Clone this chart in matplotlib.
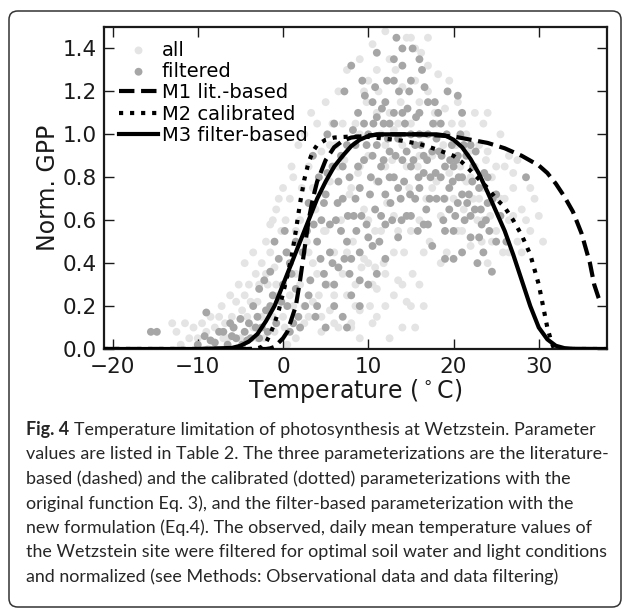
import matplotlib

matplotlib.use("Agg")
import matplotlib.pyplot as plt
import numpy as np
from matplotlib.patches import FancyBboxPatch

all_points = [
    (-13.0, 0.12), (-12.0, 0.02), (-11.0, 0.05), (-10.5, 0.10), (-9.5, 0.12), (-8.8, 0.00),
    (-8.0, 0.10), (-7.5, 0.15), (-7.0, 0.05), (-6.8, 0.12), (-6.0, 0.15), (-5.5, 0.22),
    (-5.0, 0.05), (-4.5, 0.25), (-4.2, 0.15), (-4.0, 0.30), (-3.5, 0.10), (-3.2, 0.35),
    (-3.0, 0.22), (-2.5, 0.40), (-2.2, 0.05), (-2.0, 0.50), (-1.8, 0.30), (-1.5, 0.58),
    (-1.2, 0.15), (-1.0, 0.38), (-0.8, 0.65), (-0.5, 0.25), (-0.2, 0.55), (0.0, 0.75),
    (0.2, 0.10), (0.5, 0.45), (0.8, 0.70), (1.0, 0.85), (1.2, 0.20), (1.5, 0.55),
    (1.8, 0.95), (2.0, 0.30), (2.2, 0.75), (2.5, 1.00), (2.8, 0.50), (3.0, 0.15),
    (3.0, 0.85), (3.3, 1.10), (3.5, 0.40), (3.8, 0.65), (4.0, 1.05), (4.2, 0.25),
    (4.5, 0.92), (4.8, 0.55), (5.0, 1.15), (5.2, 0.30), (5.5, 0.78), (5.8, 1.05),
    (6.0, 0.45), (6.2, 0.95), (6.5, 1.20), (6.8, 0.60), (7.0, 0.35), (7.2, 0.88),
    (7.5, 1.30), (7.8, 0.72), (8.0, 0.12), (8.2, 0.50), (8.5, 1.05), (8.8, 0.82),
    (9.0, 1.35), (9.2, 0.38), (9.5, 0.65), (9.8, 1.15), (10.0, 0.90), (10.2, 0.20),
    (10.5, 1.42), (10.8, 0.55), (11.0, 0.78), (11.2, 1.20), (11.5, 1.00), (11.8, 0.40),
    (12.0, 1.48), (12.2, 0.68), (12.5, 1.10), (12.8, 0.88), (13.0, 0.25), (13.2, 1.30),
    (13.5, 0.55), (13.8, 1.15), (14.0, 0.95), (14.2, 0.45), (14.5, 1.45), (14.8, 0.75),
    (15.0, 1.05), (15.2, 0.35), (15.5, 1.25), (15.8, 0.85), (16.0, 0.60), (16.2, 1.38),
    (16.5, 1.00), (16.8, 0.70), (17.0, 1.20), (17.2, 0.50), (17.5, 0.90), (17.8, 1.10),
    (18.0, 0.78), (18.2, 1.28), (18.5, 0.62), (18.8, 0.95), (19.0, 1.12), (19.2, 0.45),
    (19.5, 0.82), (19.8, 1.05), (20.0, 0.70), (20.3, 0.95), (20.5, 0.55), (20.8, 0.85),
    (21.0, 1.05), (21.2, 0.65), (21.5, 0.78), (21.8, 0.92), (22.0, 0.48), (22.3, 0.70),
    (22.5, 0.85), (22.8, 0.60), (23.0, 0.95), (23.3, 0.50), (23.5, 0.75), (23.8, 0.88),
    (24.0, 0.40), (24.3, 0.62), (24.5, 0.80), (25.0, 0.55), (25.5, 0.70), (25.8, 0.45),
    (26.0, 0.85), (26.5, 0.60), (27.0, 0.75), (27.5, 0.50), (28.0, 0.65), (29.0, 0.55),
    (29.5, 0.70), (30.0, 0.62), (23.5, 1.05), (24.0, 1.10), (27.0, 0.82), (26.5, 0.90),
    (8.0, 0.10), (9.0, 0.18), (10.5, 0.12), (11.0, 0.28), (12.0, 0.20), (13.5, 0.32),
    (14.0, 0.10), (15.0, 0.20), (12.5, 0.05), (16.0, 0.30), (9.5, 0.42), (10.8, 0.38),
    (2.5, 0.12), (3.5, 0.22), (4.5, 0.08), (5.5, 0.18), (6.5, 0.10), (7.5, 0.25),
    (-1.0, 0.08), (0.5, 0.02), (1.5, 0.05), (12.0, 0.95), (13.0, 1.02), (14.0, 1.22),
    (15.0, 1.45), (16.0, 1.15), (17.0, 1.32), (11.0, 1.30), (10.0, 1.25), (9.0, 1.00),
    (-12.5, 0.08), (-11.5, 0.12), (-10.0, 0.05), (-9.0, 0.08), (-8.5, 0.15), (-7.2, 0.20),
    (-6.5, 0.05), (-6.2, 0.25), (-5.8, 0.10), (-5.2, 0.30), (-4.8, 0.18), (-4.5, 0.40),
    (-3.8, 0.22), (-3.5, 0.45), (-3.0, 0.05), (-2.8, 0.30), (-2.5, 0.15), (-2.0, 0.35),
    (-1.5, 0.45), (-1.2, 0.60), (-0.8, 0.30), (-0.5, 0.70), (0.0, 0.15), (0.3, 0.60),
    (0.8, 0.25), (1.2, 0.80), (1.5, 0.35), (2.0, 0.60), (2.5, 0.20), (3.0, 0.45),
    (3.5, 0.75), (4.0, 0.35), (4.5, 0.15), (5.0, 0.55), (5.5, 0.95), (6.0, 0.25),
    (6.5, 0.85), (7.0, 1.05), (7.5, 0.45), (8.0, 0.75), (8.5, 0.30), (9.0, 0.85),
    (9.5, 1.20), (10.0, 0.60), (10.5, 0.30), (11.0, 1.10), (11.5, 0.55), (12.0, 0.85),
    (12.5, 1.35), (13.0, 0.62), (13.5, 1.05), (14.0, 0.30), (14.5, 0.85), (15.0, 0.55),
    (15.5, 1.40), (16.0, 0.90), (16.5, 0.45), (17.0, 1.45), (17.5, 0.75), (18.0, 1.05),
    (18.5, 0.40), (19.0, 0.70), (19.5, 1.25), (20.0, 0.95), (20.5, 1.15), (21.0, 0.55),
    (21.5, 1.00), (22.0, 0.80), (22.5, 1.10), (23.0, 0.70), (23.5, 0.60), (24.0, 0.92),
    (24.5, 0.50), (25.0, 0.85), (25.5, 1.00), (26.0, 0.70), (26.5, 0.45), (27.0, 0.62),
    (27.5, 0.88), (28.0, 0.45), (28.5, 0.60), (29.0, 0.75), (30.5, 0.50), (6.0, 0.12),
    (9.0, 0.05), (11.0, 0.15), (13.0, 0.45), (14.5, 0.22), (15.5, 0.10), (16.5, 0.20),
    (12.0, 0.35), (10.0, 0.40), (8.5, 0.20),
]

filtered_points = [
    (-15.5, 0.08), (-14.8, 0.08), (-9.0, 0.17), (-10.0, 0.02), (-8.5, 0.04), (-9.2, 0.06),
    (-7.5, 0.08), (-7.0, 0.08), (-8.0, 0.03), (-6.5, 0.02), (-6.0, 0.06), (-5.8, 0.10),
    (-5.0, 0.14), (-4.5, 0.08), (-4.8, 0.02), (-4.0, 0.12), (-3.5, 0.20), (-3.8, 0.05),
    (-3.0, 0.15), (-2.8, 0.28), (-2.5, 0.10), (-2.2, 0.32), (-2.0, 0.18), (-1.5, 0.36),
    (-1.2, 0.25), (-1.0, 0.50), (-0.8, 0.12), (-0.5, 0.42), (0.0, 0.30), (0.2, 0.55),
    (0.5, 0.20), (0.8, 0.08), (1.0, 0.35), (1.5, 0.28), (2.0, 0.10), (2.3, 0.45),
    (3.0, 0.68), (3.2, 0.32), (3.5, 0.90), (3.8, 0.15), (4.0, 0.50), (4.2, 0.80),
    (4.5, 0.60), (4.8, 0.35), (5.0, 0.72), (5.2, 1.00), (5.5, 0.45), (5.8, 0.85),
    (6.0, 0.20), (6.0, 1.05), (6.2, 0.60), (6.5, 0.38), (6.8, 0.90), (7.0, 0.15),
    (7.0, 0.70), (7.2, 1.20), (7.5, 0.50), (7.8, 0.80), (8.0, 1.32), (8.0, 0.25),
    (8.3, 0.62), (8.5, 0.95), (8.8, 1.10), (9.0, 0.45), (9.0, 0.75), (9.3, 1.25),
    (9.5, 0.88), (9.8, 0.58), (10.0, 1.00), (10.0, 0.30), (10.3, 0.80), (10.5, 1.15),
    (10.8, 0.65), (11.0, 0.95), (11.0, 1.38), (11.3, 0.50), (11.5, 0.85), (11.8, 1.05),
    (12.0, 0.72), (12.2, 1.25), (12.5, 0.92), (12.8, 0.60), (13.0, 1.10), (13.0, 0.80),
    (13.3, 1.45), (13.5, 0.98), (13.8, 0.70), (14.0, 1.32), (14.0, 0.88), (14.3, 1.05),
    (14.5, 0.62), (14.8, 1.20), (15.0, 0.85), (15.2, 1.40), (15.5, 0.95), (15.8, 0.55),
    (16.0, 1.10), (16.0, 0.75), (16.3, 1.30), (16.5, 0.90), (16.8, 0.65), (17.0, 1.00),
    (17.3, 0.80), (17.5, 0.48), (17.8, 1.15), (18.0, 0.70), (18.3, 0.92), (18.5, 1.05),
    (18.8, 0.60), (19.0, 0.85), (19.3, 1.20), (19.5, 0.75), (19.8, 0.95), (20.0, 0.55),
    (20.0, 0.42), (20.3, 0.88), (20.5, 0.68), (20.8, 1.00), (21.0, 0.80), (21.3, 0.60),
    (21.5, 0.90), (21.8, 0.72), (22.0, 0.52), (22.3, 0.85), (22.5, 0.65), (22.8, 0.40),
    (23.0, 0.75), (23.3, 0.58), (23.5, 0.45), (24.0, 0.68), (24.5, 0.36), (25.0, 0.50),
    (28.5, 0.80), (20.5, 1.18), (21.0, 1.10), (12.0, 1.15), (11.5, 0.62), (9.5, 1.05),
    (8.5, 0.70), (7.5, 0.95), (6.5, 0.78), (5.5, 0.58), (4.8, 0.68), (10.5, 0.90),
    (12.5, 0.80), (13.5, 0.75), (14.5, 0.92), (15.5, 0.70), (16.5, 0.82), (17.5, 0.92),
    (18.5, 0.80), (19.5, 0.65), (15.0, 1.00), (16.0, 1.35), (14.0, 1.40), (13.0, 1.25),
    (12.0, 0.58), (10.5, 0.48), (7.8, 0.35), (6.8, 0.55), (5.0, 0.30), (4.0, 0.20),
    (2.8, 0.55), (1.5, 0.50), (-0.2, 0.22), (0.8, 0.40), (7.5, 0.10), (9.0, 0.20),
    (8.2, 1.02), (8.8, 0.85), (9.2, 0.62), (9.6, 1.18), (10.2, 0.72), (10.6, 1.05),
    (11.2, 0.78), (11.6, 1.12), (12.3, 0.98), (12.6, 0.68), (13.2, 0.90), (13.6, 1.20),
    (13.9, 0.60), (14.2, 0.78), (14.6, 1.12), (14.9, 0.72), (15.3, 0.88), (15.6, 1.08),
    (15.9, 0.80), (16.2, 0.95), (16.6, 1.22), (16.9, 0.88), (17.2, 0.70), (17.6, 1.05),
    (17.9, 0.82), (18.2, 1.10), (18.6, 0.90), (18.9, 0.70), (19.2, 1.00), (19.6, 0.88),
    (19.9, 0.78), (20.2, 0.62), (20.6, 0.80), (21.2, 0.95), (21.6, 0.68), (22.2, 0.78),
    (22.6, 0.92), (23.2, 0.65), (23.6, 0.82), (24.2, 0.55), (24.6, 0.70), (25.5, 0.62),
    (26.2, 0.50), (23.8, 0.60), (11.8, 0.88), (10.8, 1.22), (9.8, 0.95), (8.6, 0.55),
    (7.6, 0.62), (7.2, 0.42), (6.4, 0.68), (5.8, 0.40), (5.2, 0.82), (4.4, 0.42),
    (3.6, 0.58), (2.6, 0.20), (1.8, 0.15), (1.2, 0.12), (-1.8, 0.08), (-2.8, 0.05),
    (-3.2, 0.10), (-4.2, 0.04), (-5.5, 0.05), (-6.2, 0.12), (-1.5, 0.20), (0.4, 0.45),
    (14.0, 1.10), (15.0, 1.25), (13.0, 1.35), (12.5, 1.05), (16.0, 1.00), (17.0, 1.15),
    (11.0, 1.08), (18.0, 0.98), (20.0, 0.85), (21.0, 0.72), (22.0, 0.95), (19.0, 0.55),
    (16.5, 0.58), (13.5, 0.52), (10.0, 0.52), (8.0, 0.42), (6.0, 0.30), (5.0, 0.10),
    (3.0, 0.25), (7.0, 0.85), (9.0, 0.32), (11.0, 0.35), (12.0, 0.42), (15.0, 0.62),
    (17.0, 0.58), (19.0, 0.42), (21.0, 0.45), (22.0, 0.62), (23.0, 0.52), (24.0, 0.80),
    (25.0, 0.72), (20.5, 0.90),
]

# model curves
m1_temp = [-21, -2, -1.5, -1, -0.5, 0, 0.5, 1, 1.5, 2, 2.5, 3, 3.5, 4, 5, 6, 7, 8, 10,
           12, 16, 18, 20, 22, 24, 26, 28, 30, 31, 32, 33, 34, 35, 36, 36.5, 37, 37.2]
m1_gpp = [0, 0, 0.003, 0.01, 0.03, 0.05, 0.08, 0.14, 0.2, 0.32, 0.46, 0.6, 0.7, 0.78,
          0.88, 0.94, 0.97, 0.985, 0.995, 1.0, 1.0, 0.995, 0.99, 0.975, 0.96, 0.935,
          0.9, 0.855, 0.82, 0.77, 0.71, 0.64, 0.54, 0.4, 0.3, 0.24, 0.22]

m2_temp = [-21, -4, -3, -2.5, -2, -1.5, -1, -0.5, 0, 0.5, 1, 1.5, 2, 2.5, 3, 3.5, 4, 5,
           6, 8, 10, 12, 14, 16, 18, 20, 21, 22, 23, 24, 25, 26, 27, 28, 29, 30, 30.5,
           31, 31.5, 31.8, 38]
m2_gpp = [0, 0, 0.003, 0.01, 0.03, 0.07, 0.12, 0.18, 0.26, 0.34, 0.43, 0.55, 0.68,
          0.79, 0.87, 0.92, 0.95, 0.975, 0.985, 0.99, 0.988, 0.98, 0.97, 0.955, 0.93,
          0.9, 0.87, 0.83, 0.79, 0.75, 0.7, 0.66, 0.6, 0.53, 0.44, 0.3, 0.2, 0.1,
          0.03, 0.0, 0.0]

m3_temp = [-21, -10, -6, -5, -4, -3, -2, -1, 0, 1, 2, 3, 4, 5, 6, 7, 8, 9, 10, 11, 18,
           19, 20, 21, 22, 23, 24, 25, 26, 27, 28, 29, 30, 31, 32, 33, 34, 38]
m3_gpp = [0, 0, 0.005, 0.015, 0.035, 0.07, 0.13, 0.2, 0.3, 0.4, 0.5, 0.6, 0.7, 0.78,
          0.85, 0.9, 0.945, 0.975, 0.992, 1.0, 1.0, 0.995, 0.975, 0.94, 0.885, 0.815,
          0.73, 0.64, 0.55, 0.44, 0.32, 0.2, 0.1, 0.045, 0.015, 0.004, 0.001, 0]

caption_lines = [
    "Temperature limitation of photosynthesis at Wetzstein. Parameter",
    "values are listed in Table 2. The three parameterizations are the literature-",
    "based (dashed) and the calibrated (dotted) parameterizations with the",
    "original function Eq. 3), and the filter-based parameterization with the",
    "new formulation (Eq.4). The observed, daily mean temperature values of",
    "the Wetzstein site were filtered for optimal soil water and light conditions",
    "and normalized (see Methods: Observational data and data filtering)",
]

W, H = 629, 609
fig = plt.figure(figsize=(W / 100, H / 100), dpi=100)

# rounded frame around figure + caption
frame = FancyBboxPatch((9 / W, 1 - 607 / H), 612 / W, 596 / H,
                       boxstyle="round,pad=0,rounding_size=0.014",
                       transform=fig.transFigure, facecolor="none",
                       edgecolor="#333333", linewidth=1.1)
fig.patches.append(frame)

ax = fig.add_axes([104 / W, 1 - 349 / H, 503 / W, 322 / H])

all_xy = np.array(all_points)
filt_xy = np.array(filtered_points)
ax.scatter(all_xy[:, 0], all_xy[:, 1], s=32, color="#e4e4e4", edgecolors="none",
           label="all", zorder=1)
ax.scatter(filt_xy[:, 0], filt_xy[:, 1], s=32, color="#a6a6a6", edgecolors="none",
           label="filtered", zorder=2)
ax.plot(m1_temp, m1_gpp, color="k", lw=3, ls="--", label="M1 lit.-based", zorder=3)
ax.plot(m2_temp, m2_gpp, color="k", lw=3, ls=":", label="M2 calibrated", zorder=3)
ax.plot(m3_temp, m3_gpp, color="k", lw=3, ls="-", label="M3 filter-based", zorder=3)

ax.set_xlim(-21, 38)
ax.set_ylim(0, 1.5)
ax.set_xticks([-20, -10, 0, 10, 20, 30])
ax.set_yticks([0.0, 0.2, 0.4, 0.6, 0.8, 1.0, 1.2, 1.4])
ax.yaxis.set_major_formatter(matplotlib.ticker.FormatStrFormatter("%.1f"))
ax.tick_params(direction="in", top=True, right=True, length=7, width=1,
               labelsize=15.5, colors="#1a1a1a")
ax.tick_params(axis="x", pad=6)
ax.tick_params(axis="y", pad=5)
for sp in ax.spines.values():
    sp.set_linewidth(1.6)
    sp.set_color("#1a1a1a")

ax.set_xlabel("Temperature ($^\\circ$C)", fontsize=17, labelpad=0, color="#1a1a1a")
ax.set_ylabel("Norm. GPP", fontsize=17, labelpad=2, color="#1a1a1a")

ax.legend(loc="upper left", bbox_to_anchor=(0.03, 0.958), frameon=False,
          fontsize=14, handlelength=2.0, handletextpad=0.2, labelspacing=0.12,
          borderpad=0, borderaxespad=0, scatterpoints=1, markerscale=1)

# caption
y0 = 1 - 430 / H
for i, line in enumerate(caption_lines):
    y = y0 - i * 24.5 / H
    if i == 0:
        t = fig.text(26 / W, y, "Fig. 4", fontsize=12.9, fontweight="bold",
                     family="Lato", va="center", ha="left", color="#262626")
        fig.canvas.draw()
        bb = t.get_window_extent()
        fig.text((bb.x1 + 5) / W, y, line, fontsize=12.9, family="Lato",
                 va="center", ha="left", color="#262626")
    else:
        fig.text(26 / W, y, line, fontsize=12.9, family="Lato",
                 va="center", ha="left", color="#262626")

fig.savefig("out.png", dpi=100)
